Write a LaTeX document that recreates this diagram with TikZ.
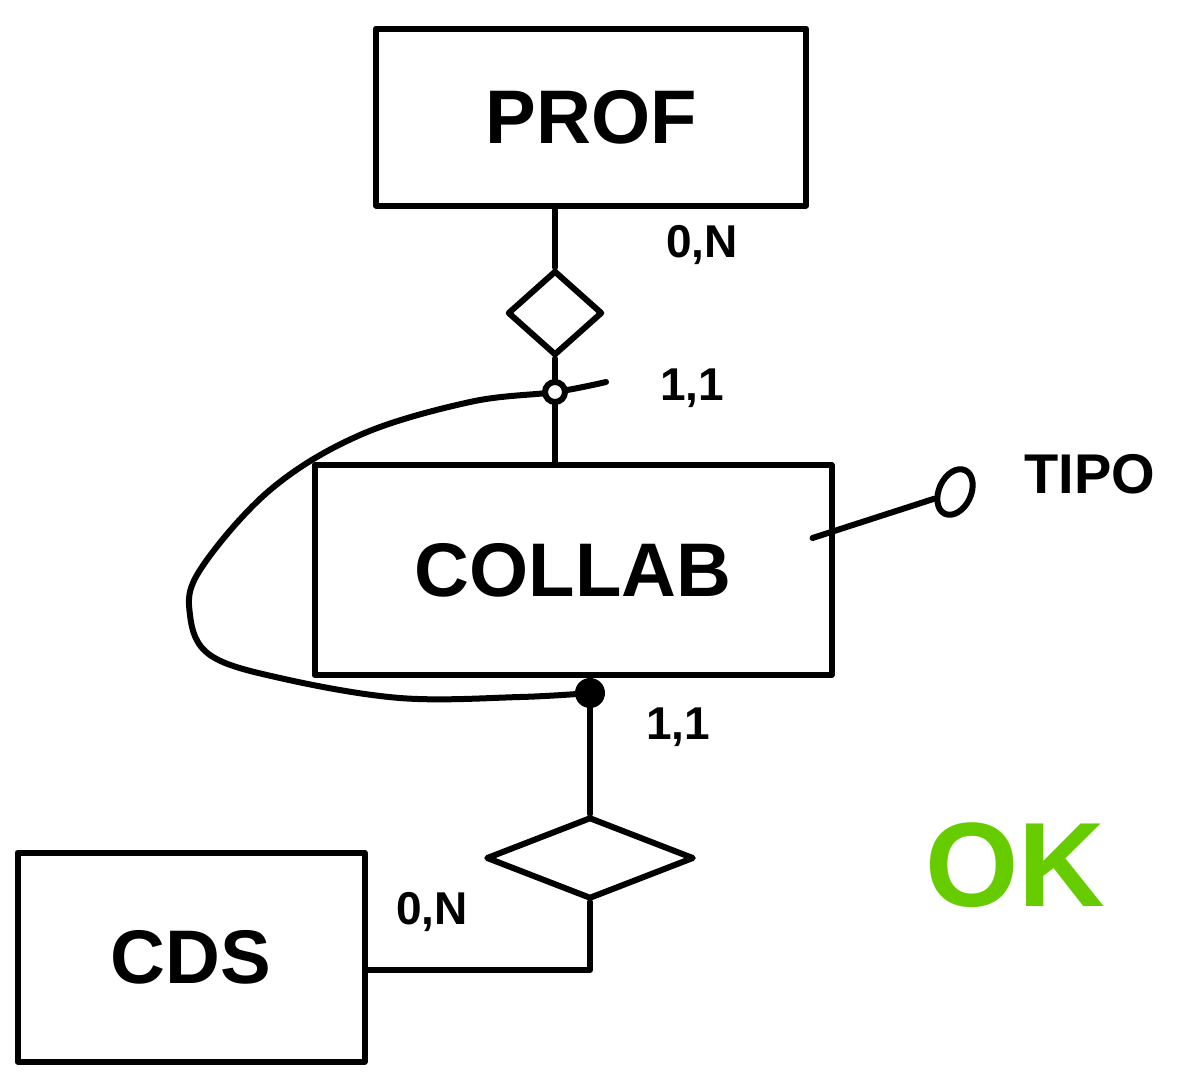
\documentclass[tikz,border=0pt]{standalone}
\usepackage{fontspec}
\setmainfont{Liberation Sans}
\usetikzlibrary{shapes.geometric,calc}
\definecolor{okgreen}{RGB}{102,204,0}
\begin{document}
\begin{tikzpicture}[x=1pt,y=-1pt,line width=6pt,line cap=round,line join=round,
  entity/.style={draw,rectangle,inner sep=0pt,font=\fontsize{76}{90}\selectfont\bfseries},
  relship/.style={draw,diamond,inner sep=0pt},
  card/.style={font=\fontsize{46}{54}\selectfont\bfseries},
  attr/.style={draw,ellipse,inner sep=0pt,minimum width=32pt,minimum height=48pt,rotate=-25}]
\useasboundingbox (0,0) rectangle (1191,1072);
% entities
\node[entity,minimum width=430pt,minimum height=177pt] (PROF) at (591,117) {PROF};
\node[entity,minimum width=517pt,minimum height=210pt] (COLLAB) at (573,570) {COLLAB};
\node[entity,minimum width=347pt,minimum height=209pt] (CDS) at (191,957) {CDS};
% relationships
\node[relship,minimum width=95pt,minimum height=85pt] (rel1) at (555,313) {};
\node[relship,minimum width=208pt,minimum height=82pt] (rel2) at (590,858) {};
% attribute
\node[attr] (tipo) at (955,492) {};
\node[font=\fontsize{56}{66}\selectfont\bfseries] (tipolabel) at (1090,474) {TIPO};
% connectors
\draw (PROF.south -| rel1) -- (rel1.north);
\draw (rel1.south) -- (COLLAB.north -| rel1);
\draw (COLLAB.south -| rel2) -- (rel2.north);
\draw (rel2.south) |- ($(CDS.east)+(0,13)$);
\draw ($(COLLAB.east)+(-22,-32)$) -- (tipo);
% external identifier
\coordinate (idtop) at (555,392);
\coordinate (idbot) at (590,693);
\coordinate (idstart) at (606,382);
\draw plot[smooth,tension=0.6] coordinates {(idstart) (idtop) (470,402) (360,435) (270,490) (200,570) (190,615) (210,655) (280,678) (400,698) (520,697) (idbot)};
\draw[fill=white] (idtop) circle (10);
\fill (idbot) circle (15);
% cardinalities
\node[card] (c1) at (702,245) {0,N};
\node[card] (c2) at (692,388) {1,1};
\node[card] (c3) at (678,727) {1,1};
\node[card] (c4) at (432,912) {0,N};
% verdict
\node[font=\fontsize{120}{140}\selectfont\bfseries,text=okgreen] (ok) at (1015,865) {OK};
\end{tikzpicture}
\end{document}
